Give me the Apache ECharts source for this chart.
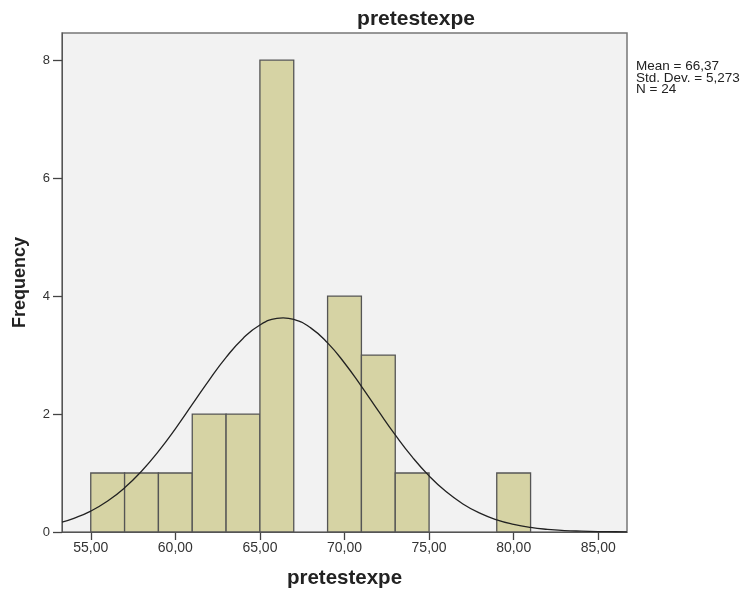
<!DOCTYPE html>
<html>
<head>
<meta charset="utf-8">
<script src="https://cdn.jsdelivr.net/npm/echarts@6/dist/echarts.min.js"></script>
<style>html,body{margin:0;padding:0;background:#fff;}#c{width:748px;height:589px;}</style>
</head>
<body>
<div id="c"></div>
<script>
// Histogram bins (start, end) and frequencies
var binStarts = [55, 57, 59, 61, 63, 65, 67, 69, 71, 73, 75, 77, 79];
var binWidth = 2;
var counts = [1, 1, 1, 2, 2, 8, 0, 4, 3, 1, 0, 0, 1];
// Normal curve
var curveX = [53.3, 54, 55, 56, 57, 58, 59, 60, 61, 62, 63, 64, 65, 66, 66.37, 67, 68, 69, 70, 71, 72, 73, 74, 75, 76, 77, 78, 79, 80, 81, 82, 83, 84, 85, 86, 86.7];
var curveY = [0.168, 0.232, 0.355, 0.525, 0.749, 1.03, 1.367, 1.75, 2.162, 2.576, 2.96, 3.282, 3.51, 3.622, 3.631, 3.605, 3.461, 3.206, 2.865, 2.469, 2.053, 1.647, 1.274, 0.951, 0.685, 0.476, 0.319, 0.206, 0.129, 0.077, 0.045, 0.025, 0.014, 0.007, 0.004, 0.002];
var xTicks = [55, 60, 65, 70, 75, 80, 85];
var yTicks = [0, 2, 4, 6, 8];
var statsLines = ['Mean = 66,37', 'Std. Dev. = 5,273', 'N = 24'];

var barData = binStarts.map(function (s, i) { return [s, s + binWidth, counts[i]]; })
  .filter(function (d) { return d[2] > 0; });
var lineData = curveX.map(function (x, i) { return [x, curveY[i]]; });

var FONT = 'Liberation Sans, Arial, sans-serif';
var chart = echarts.init(document.getElementById('c'));
chart.setOption({
  animation: false,
  backgroundColor: '#ffffff',
  title: [{
    text: 'pretestexpe',
    left: 411, top: 4, textAlign: 'center',
    textStyle: { fontFamily: FONT, fontSize: 21, fontWeight: 'bold', color: '#222' }
  }, {
    text: statsLines.join('\n'),
    left: 631, top: 56,
    textStyle: { fontFamily: FONT, fontSize: 13.5, fontWeight: 'normal', color: '#222', lineHeight: 11.5 }
  }],
  grid: {
    left: 62, top: 33, right: 121, bottom: 57,
    containLabel: false, outerBoundsMode: 'none',
    show: true, backgroundColor: '#f2f2f2', borderColor: '#777', borderWidth: 1.5
  },
  xAxis: {
    type: 'value', min: 53.3, max: 86.7,
    name: 'pretestexpe', nameLocation: 'middle', nameGap: 36,
    nameTextStyle: { fontFamily: FONT, fontSize: 20.5, fontWeight: 'bold', color: '#222' },
    axisLine: { show: true, onZero: false, lineStyle: { color: '#555', width: 1 } },
    axisTick: { show: true, inside: false, length: 8, customValues: xTicks, lineStyle: { color: '#444', width: 1.3 } },
    axisLabel: {
      customValues: xTicks, margin: 9, color: '#333', fontFamily: FONT, fontSize: 14,
      formatter: function (v) { return v.toFixed(2).replace('.', ','); }
    },
    splitLine: { show: false }
  },
  yAxis: {
    type: 'value', min: 0, max: 8.46,
    name: 'Frequency', nameLocation: 'middle', nameGap: 33,
    nameTextStyle: { fontFamily: FONT, fontSize: 18, fontWeight: 'bold', color: '#222' },
    axisLine: { show: true, lineStyle: { color: '#555', width: 1 } },
    axisTick: { show: true, inside: false, length: 9, customValues: yTicks, lineStyle: { color: '#444', width: 1.3 } },
    axisLabel: { customValues: yTicks, margin: 12, color: '#333', fontFamily: FONT, fontSize: 13 },
    splitLine: { show: false }
  },
  series: [{
    type: 'custom',
    data: barData,
    renderItem: function (params, api) {
      var p0 = api.coord([api.value(0), api.value(2)]);
      var p1 = api.coord([api.value(1), 0]);
      return {
        type: 'rect',
        shape: { x: p0[0], y: p0[1], width: p1[0] - p0[0], height: p1[1] - p0[1] },
        style: { fill: '#d6d3a4', stroke: '#555', lineWidth: 1.3 }
      };
    },
    encode: { x: [0, 1], y: 2 },
    z: 2
  }, {
    type: 'line',
    data: lineData,
    smooth: true,
    showSymbol: false,
    lineStyle: { color: '#222', width: 1.3 },
    z: 3
  }]
});
</script>
</body>
</html>
